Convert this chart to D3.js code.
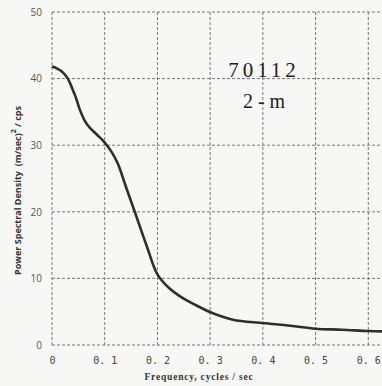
<!DOCTYPE html>
<html>
<head>
<meta charset="utf-8">
<script src="https://cdn.jsdelivr.net/npm/d3@7"></script>
<style>
  body { margin: 0; background: #f7f7f5; }
  svg { display: block; }
</style>
</head>
<body>
<div id="chart"></div>
<script>
// spectrum
var freq = [0, 0.01, 0.021, 0.03, 0.038, 0.046, 0.053, 0.062, 0.072, 0.085, 0.1, 0.113, 0.125, 0.14, 0.157, 0.18, 0.2, 0.22, 0.243, 0.27, 0.304, 0.343, 0.4, 0.452, 0.5, 0.55, 0.6, 0.626];
var psd  = [41.8, 41.5, 40.9, 40, 38.6, 37, 35.3, 33.7, 32.6, 31.6, 30.4, 29, 27.2, 23.8, 20, 14.8, 10.6, 8.7, 7.3, 6.1, 4.8, 3.8, 3.3, 2.9, 2.45, 2.3, 2.1, 2.05];
var xTicks = [0, 0.1, 0.2, 0.3, 0.4, 0.5, 0.6];
var yTicks = [0, 10, 20, 30, 40, 50];

var margin = {top: 12, right: 0, bottom: 41, left: 52},
    width = 382 - margin.left - margin.right,
    height = 386 - margin.top - margin.bottom;

var svg = d3.select("#chart")
  .append("svg")
    .attr("width", 382)
    .attr("height", 386)
  .append("g")
    .attr("transform", "translate(" + margin.left + "," + margin.top + ")");

var x = d3.scaleLinear().domain([0, 0.626]).range([0, width]);
var y = d3.scaleLinear().domain([0, 50]).range([height, 0]);

// grid
svg.selectAll(".vgrid")
  .data(xTicks)
  .enter().append("line")
    .attr("x1", function(d) { return x(d); })
    .attr("x2", function(d) { return x(d); })
    .attr("y1", 0).attr("y2", height)
    .attr("stroke", "#777").attr("stroke-width", 1)
    .attr("stroke-dasharray", "3,2");

svg.selectAll(".hgrid")
  .data(yTicks)
  .enter().append("line")
    .attr("x1", 0).attr("x2", width)
    .attr("y1", function(d) { return y(d); })
    .attr("y2", function(d) { return y(d); })
    .attr("stroke", "#777").attr("stroke-width", 1)
    .attr("stroke-dasharray", "3,2");

// axes (labels only, the grid is the frame)
var xAxis = svg.append("g")
  .attr("transform", "translate(0," + height + ")")
  .call(d3.axisBottom(x).tickValues(xTicks).tickSize(0).tickPadding(12)
    .tickFormat(function(d) { return d === 0 ? "0" : d3.format(".1f")(d).replace(".", ". "); }));
xAxis.select(".domain").remove();
xAxis.selectAll("text")
  .attr("font-family", "DejaVu Sans Mono, monospace")
  .attr("font-size", 10)
  .attr("fill", "#444");

var yAxis = svg.append("g")
  .call(d3.axisLeft(y).tickValues(yTicks).tickSize(0).tickPadding(10));
yAxis.select(".domain").remove();
yAxis.selectAll("text")
  .attr("font-family", "Open Sans, sans-serif")
  .attr("font-size", 10)
  .attr("fill", "#555");

// the curve
svg.append("path")
  .datum(d3.zip(freq, psd))
  .attr("fill", "none")
  .attr("stroke", "#2e2e2e")
  .attr("stroke-width", 2.6)
  .attr("stroke-linejoin", "round")
  .attr("d", d3.line()
    .x(function(d) { return x(d[0]); })
    .y(function(d) { return y(d[1]); })
    .curve(d3.curveCatmullRom));

// station labels
svg.append("text")
  .attr("x", 212).attr("y", 65)
  .attr("text-anchor", "middle")
  .attr("font-family", "Liberation Serif, serif")
  .attr("font-size", 21)
  .attr("letter-spacing", 4)
  .attr("fill", "#222")
  .text("70112");
svg.append("text")
  .attr("x", 212).attr("y", 96)
  .attr("text-anchor", "middle")
  .attr("font-family", "Liberation Serif, serif")
  .attr("font-size", 20)
  .attr("fill", "#222")
  .text("2 - m");

// axis titles
svg.append("text")
  .attr("x", 147).attr("y", height + 35)
  .attr("text-anchor", "middle")
  .attr("font-family", "Liberation Serif, serif")
  .attr("font-weight", "bold")
  .attr("font-size", 9.5)
  .attr("letter-spacing", 0.8)
  .attr("fill", "#333")
  .text("Frequency, cycles / sec");

svg.append("text")
  .attr("transform", "translate(-31," + (height / 2 + 12) + ") rotate(-90)")
  .attr("text-anchor", "middle")
  .attr("font-family", "Open Sans, sans-serif")
  .attr("font-weight", "bold")
  .attr("font-size", 9)
  .attr("fill", "#333")
  .html("Power Spectral Density &#160;(m/sec)<tspan dy='-5' font-size='7'>2</tspan><tspan dy='5'> / cps</tspan>");
</script>
</body>
</html>
